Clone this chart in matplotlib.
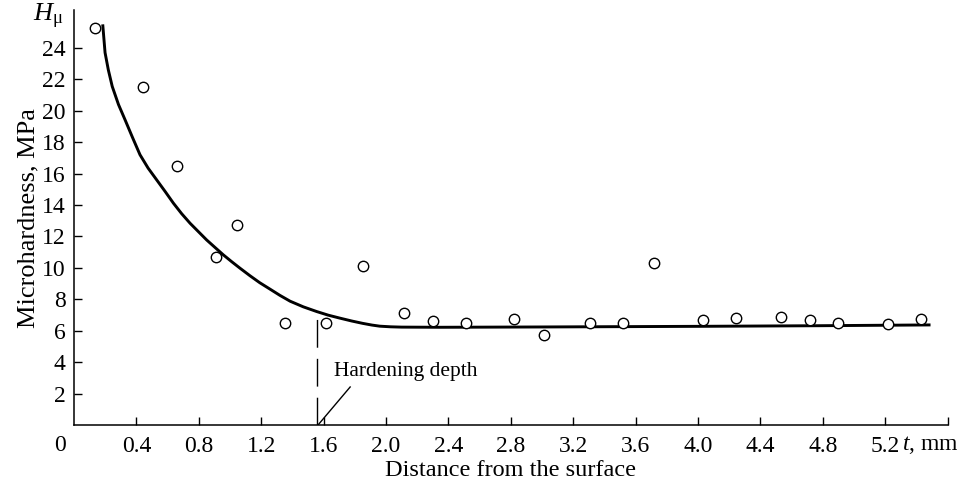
import numpy as np
import matplotlib
matplotlib.use("Agg")
import matplotlib.pyplot as plt

plt.rcParams['font.family'] = ['Liberation Serif', 'DejaVu Serif']
plt.rcParams['mathtext.fontset'] = 'custom'
plt.rcParams['mathtext.it'] = 'Liberation Serif:italic'
plt.rcParams['mathtext.rm'] = 'Liberation Serif'

# measured microhardness points
t_pts = [0.135, 0.44, 0.66, 0.91, 1.045, 1.35, 1.615, 1.85, 2.115, 2.30, 2.51, 2.82,
         3.01, 3.31, 3.52, 3.72, 4.03, 4.24, 4.53, 4.72, 4.90, 5.22, 5.43]
h_pts = [25.3, 21.5, 16.5, 10.7, 12.7, 6.5, 6.5, 10.1, 7.1, 6.6, 6.5, 6.75,
         5.7, 6.5, 6.5, 10.3, 6.7, 6.8, 6.9, 6.7, 6.5, 6.4, 6.75]

# fitted curve
t_fit = [0.184, 0.199, 0.22, 0.245, 0.285, 0.327, 0.375, 0.423, 0.475, 0.53, 0.585, 0.637,
         0.69, 0.744, 0.80, 0.85, 0.905, 0.957, 1.01, 1.064, 1.128, 1.19, 1.256, 1.32,
         1.385, 1.47, 1.556, 1.63, 1.705, 1.78, 1.85, 1.91, 1.96, 2.03, 2.10, 2.35,
         3.0, 4.0, 4.78, 5.49]
h_fit = [25.5, 23.7, 22.6, 21.55, 20.4, 19.43, 18.3, 17.2, 16.35, 15.6, 14.85, 14.12,
         13.45, 12.84, 12.28, 11.78, 11.29, 10.83, 10.4, 9.98, 9.5, 9.06, 8.65, 8.25,
         7.88, 7.52, 7.22, 6.99, 6.8, 6.62, 6.47, 6.36, 6.29, 6.25, 6.23, 6.22,
         6.24, 6.28, 6.32, 6.37]

depth = 1.558

xticks = [0.4, 0.8, 1.2, 1.6, 2.0, 2.4, 2.8, 3.2, 3.6, 4.0, 4.4, 4.8, 5.2, 5.6]
xlabels = ['0.4', '0.8', '1.2', '1.6', '2.0', '2.4', '2.8', '3.2', '3.6', '4.0', '4.4', '4.8', '5.2', '']
yticks = list(range(2, 26, 2))

fs = 17

fig = plt.figure(figsize=(9.7, 4.87), dpi=100)
ax = fig.add_axes([0.0763, 0.1273, 0.9007, 0.8517])

ax.plot(t_fit, h_fit, color='black', lw=2.1, solid_capstyle='butt', solid_joinstyle='round')
ax.plot(t_pts, h_pts, 'o', mfc='white', mec='black', ms=7.5, mew=1.0)

# hardening depth marker
ax.plot([depth, depth], [0, 7.22], color='black', lw=1.0, dashes=(20, 8))
ax.plot([1.564, 1.77], [0, 2.42], color='black', lw=1.0)
ax.text(1.667, 3.4, 'Hardening depth', fontsize=15.5, va='center', ha='left')

ax.set_xlim(0, 5.6)
ax.set_ylim(0, 26.4)
ax.set_xticks(xticks)
ax.set_xticklabels(xlabels)
ax.set_yticks(yticks)
ax.tick_params(direction='in', length=6, width=1, labelsize=fs)
ax.tick_params(axis='x', pad=8)
ax.tick_params(axis='y', pad=6)
for s in ['top', 'right']:
    ax.spines[s].set_visible(False)
for s in ['left', 'bottom']:
    ax.spines[s].set_linewidth(1.1)

ax.text(-0.09, -0.049, '0', transform=ax.get_xaxis_transform(), fontsize=fs,
        ha='center', va='center')
ax.text(5.31, -0.049, '$t$, mm', transform=ax.get_xaxis_transform(), fontsize=fs,
        ha='left', va='center')
ax.text(-0.165, 0.985, '$H_\\mathrm{\\mu}$', transform=ax.get_xaxis_transform(), fontsize=19,
        ha='center', va='center')

ax.set_xlabel('Distance from the surface', fontsize=17.5, labelpad=2)
ax.set_ylabel('Microhardness, MPa', fontsize=19, labelpad=2)

fig.savefig('out.png', dpi=100)
